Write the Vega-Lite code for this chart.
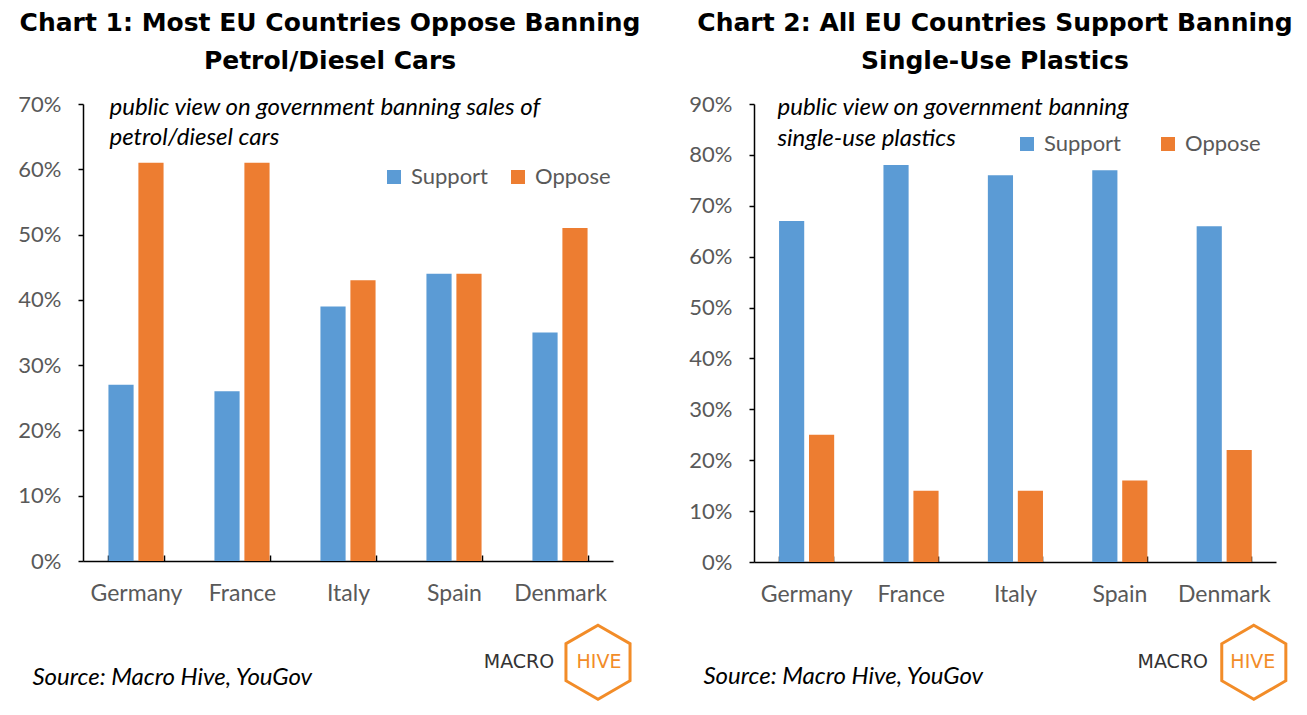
{
  "$schema": "https://vega.github.io/schema/vega-lite/v6.json",
  "background": "white",
  "padding": {"left": 17, "top": 11, "right": 5, "bottom": 5},
  "bounds": "flush",
  "spacing": 141,
  "config": {"view": {"stroke": null}, "font": "Lato"},
  "resolve": {"scale": {"color": "independent"}, "legend": {"color": "independent"}},
  "datasets": {
    "petrol": [
      {"country": "Germany", "stance": "Support", "value": 0.27},
      {"country": "Germany", "stance": "Oppose", "value": 0.61},
      {"country": "France", "stance": "Support", "value": 0.26},
      {"country": "France", "stance": "Oppose", "value": 0.61},
      {"country": "Italy", "stance": "Support", "value": 0.39},
      {"country": "Italy", "stance": "Oppose", "value": 0.43},
      {"country": "Spain", "stance": "Support", "value": 0.44},
      {"country": "Spain", "stance": "Oppose", "value": 0.44},
      {"country": "Denmark", "stance": "Support", "value": 0.35},
      {"country": "Denmark", "stance": "Oppose", "value": 0.51}
    ],
    "plastics": [
      {"country": "Germany", "stance": "Support", "value": 0.67},
      {"country": "Germany", "stance": "Oppose", "value": 0.25},
      {"country": "France", "stance": "Support", "value": 0.78},
      {"country": "France", "stance": "Oppose", "value": 0.14},
      {"country": "Italy", "stance": "Support", "value": 0.76},
      {"country": "Italy", "stance": "Oppose", "value": 0.14},
      {"country": "Spain", "stance": "Support", "value": 0.77},
      {"country": "Spain", "stance": "Oppose", "value": 0.16},
      {"country": "Denmark", "stance": "Support", "value": 0.66},
      {"country": "Denmark", "stance": "Oppose", "value": 0.22}
    ],
    "logo1": [{"part": "MACRO"}],
    "logo2": [{"part": "HIVE"}],
    "hex": [{"part": "hexagon"}]
  },
  "hconcat": [
    {
      "width": 530,
      "height": 457,
      "title": {"text": ["Chart 1: Most EU Countries Oppose Banning", "Petrol/Diesel Cars"], "font": "DejaVu Sans", "fontSize": 25, "fontWeight": "bold", "color": "black", "lineHeight": 38, "offset": 19, "dx": -18, "anchor": "middle"},
      "layer": [
        {
          "data": {"name": "petrol"},
          "mark": {"type": "bar"},
          "encoding": {
            "x": {"field": "country", "type": "nominal", "sort": ["Germany", "France", "Italy", "Spain", "Denmark"],
              "scale": {"paddingInner": 0.48, "paddingOuter": 0.24},
              "axis": {"title": "Source: Macro Hive, YouGov", "titleX": -51, "titleY": 116, "titleAlign": "left", "titleAnchor": null, "titleBaseline": "middle", "titleFont": "Lato", "titleFontStyle": "italic", "titleFontWeight": "normal", "titleFontSize": 24, "titleColor": "black",
                "labelAngle": 0, "labelColor": "#595959", "labelFont": "Lato", "labelFontSize": 23, "labelPadding": 27, "tickBand": "extent", "tickSize": -6, "tickColor": "black", "tickWidth": 1.5, "domainColor": "black", "domainWidth": 1.5}},
            "xOffset": {"field": "stance", "sort": ["Support", "Oppose"], "scale": {"paddingInner": 0.16, "paddingOuter": 0}},
            "y": {"field": "value", "type": "quantitative", "scale": {"domain": [0, 0.7], "nice": false},
              "axis": {"format": ".0%", "values": [0, 0.1, 0.2, 0.3, 0.4, 0.5, 0.6, 0.7], "grid": false, "labelColor": "#595959", "labelFont": "Lato", "labelFontSize": 22, "labelPadding": 17, "domainColor": "black", "domainWidth": 1.5, "tickColor": "black", "tickWidth": 1.5, "tickSize": 5,
                "title": ["public view on government banning sales of", " petrol/diesel cars"], "titleAngle": 0, "titleAlign": "left", "titleBaseline": "middle", "titleX": 26, "titleY": 3, "titleFont": "Lato", "titleFontStyle": "italic", "titleFontWeight": "normal", "titleFontSize": 24, "titleColor": "black", "titleLineHeight": 30}},
            "color": {"field": "stance", "type": "nominal", "scale": {"domain": ["Support", "Oppose"], "range": ["#5B9BD5", "#ED7D31"]},
              "legend": {"orient": "none", "legendX": 300, "legendY": 62, "direction": "horizontal", "title": null, "symbolType": "square", "symbolSize": 196, "symbolStrokeWidth": 0, "labelFont": "Lato", "labelFontSize": 22, "labelColor": "#595959", "labelOffset": 6, "columnPadding": 18}}
          }
        },
        {
          "data": {"name": "hex"},
          "mark": {"type": "point", "shape": "M0,-1L0.866,-0.5L0.866,0.5L0,1L-0.866,0.5L-0.866,-0.5Z", "size": 5476, "filled": false, "stroke": "#F28C28", "strokeWidth": 3, "opacity": 1, "xOffset": 38},
          "encoding": {"x": {"datum": "Denmark"}, "y": {"datum": -0.155}}
        },
        {
          "data": {"name": "logo1"},
          "mark": {"type": "text", "font": "DejaVu Sans", "fontSize": 19, "color": "#333333", "dx": -41, "baseline": "middle"},
          "encoding": {"x": {"datum": "Denmark"}, "y": {"datum": -0.155}, "text": {"field": "part"}}
        },
        {
          "data": {"name": "logo2"},
          "mark": {"type": "text", "font": "DejaVu Sans", "fontSize": 19, "color": "#F28C28", "dx": 39, "baseline": "middle"},
          "encoding": {"x": {"datum": "Denmark"}, "y": {"datum": -0.155}, "text": {"field": "part"}}
        }
      ]
    },
    {
      "width": 522,
      "height": 458,
      "title": {"text": ["Chart 2: All EU Countries Support Banning", "Single-Use Plastics"], "font": "DejaVu Sans", "fontSize": 25, "fontWeight": "bold", "color": "black", "lineHeight": 38, "offset": 19, "dx": -20, "anchor": "middle"},
      "layer": [
        {
          "data": {"name": "plastics"},
          "mark": {"type": "bar"},
          "encoding": {
            "x": {"field": "country", "type": "nominal", "sort": ["Germany", "France", "Italy", "Spain", "Denmark"],
              "scale": {"paddingInner": 0.48, "paddingOuter": 0.24},
              "axis": {"title": "Source: Macro Hive, YouGov", "titleX": -51, "titleY": 114, "titleAlign": "left", "titleAnchor": null, "titleBaseline": "middle", "titleFont": "Lato", "titleFontStyle": "italic", "titleFontWeight": "normal", "titleFontSize": 24, "titleColor": "black",
                "labelAngle": 0, "labelColor": "#595959", "labelFont": "Lato", "labelFontSize": 23, "labelPadding": 27, "tickBand": "extent", "tickSize": -6, "tickColor": "black", "tickWidth": 1.5, "domainColor": "black", "domainWidth": 1.5}},
            "xOffset": {"field": "stance", "sort": ["Support", "Oppose"], "scale": {"paddingInner": 0.16, "paddingOuter": 0}},
            "y": {"field": "value", "type": "quantitative", "scale": {"domain": [0, 0.9], "nice": false},
              "axis": {"format": ".0%", "values": [0, 0.1, 0.2, 0.3, 0.4, 0.5, 0.6, 0.7, 0.8, 0.9], "grid": false, "labelColor": "#595959", "labelFont": "Lato", "labelFontSize": 22, "labelPadding": 17, "domainColor": "black", "domainWidth": 1.5, "tickColor": "black", "tickWidth": 1.5, "tickSize": 5,
                "title": ["public view on government banning", "single-use plastics"], "titleAngle": 0, "titleAlign": "left", "titleBaseline": "middle", "titleX": 23, "titleY": 3, "titleFont": "Lato", "titleFontStyle": "italic", "titleFontWeight": "normal", "titleFontSize": 24, "titleColor": "black", "titleLineHeight": 31}},
            "color": {"field": "stance", "type": "nominal", "scale": {"domain": ["Support", "Oppose"], "range": ["#5B9BD5", "#ED7D31"]},
              "legend": {"orient": "none", "legendX": 262, "legendY": 29, "direction": "horizontal", "title": null, "symbolType": "square", "symbolSize": 196, "symbolStrokeWidth": 0, "labelFont": "Lato", "labelFontSize": 22, "labelColor": "#595959", "labelOffset": 6, "columnPadding": 35}}
          }
        },
        {
          "data": {"name": "hex"},
          "mark": {"type": "point", "shape": "M0,-1L0.866,-0.5L0.866,0.5L0,1L-0.866,0.5L-0.866,-0.5Z", "size": 5476, "filled": false, "stroke": "#F28C28", "strokeWidth": 3, "opacity": 1, "xOffset": 30},
          "encoding": {"x": {"datum": "Denmark"}, "y": {"datum": -0.197}}
        },
        {
          "data": {"name": "logo1"},
          "mark": {"type": "text", "font": "DejaVu Sans", "fontSize": 19, "color": "#333333", "dx": -51, "baseline": "middle"},
          "encoding": {"x": {"datum": "Denmark"}, "y": {"datum": -0.197}, "text": {"field": "part"}}
        },
        {
          "data": {"name": "logo2"},
          "mark": {"type": "text", "font": "DejaVu Sans", "fontSize": 19, "color": "#F28C28", "dx": 29, "baseline": "middle"},
          "encoding": {"x": {"datum": "Denmark"}, "y": {"datum": -0.197}, "text": {"field": "part"}}
        }
      ]
    }
  ]
}
